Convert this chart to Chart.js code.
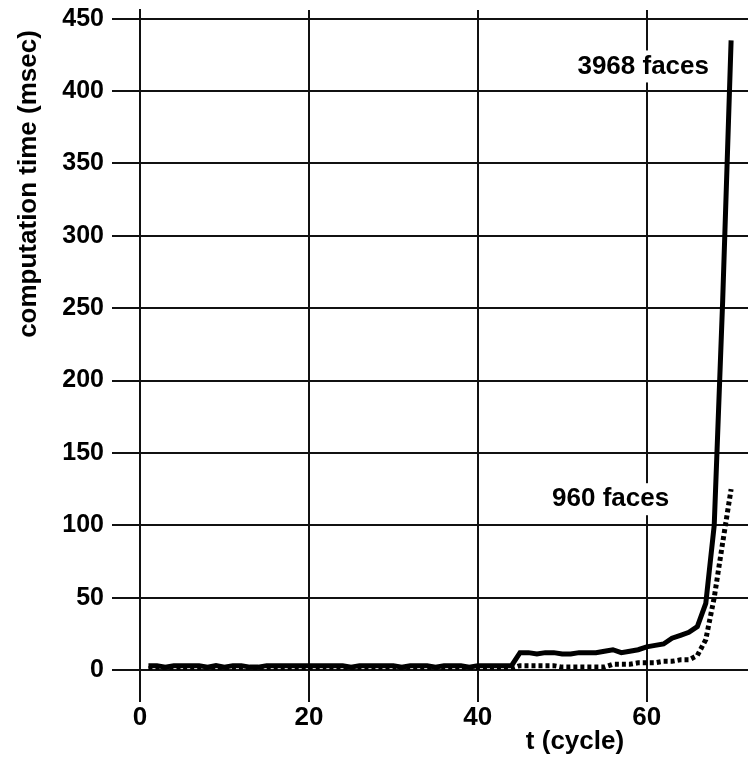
<!DOCTYPE html>
<html>
<head>
<meta charset="utf-8">
<script src="https://cdn.jsdelivr.net/npm/chart.js@4"></script>
<style>
  body { margin: 0; background: #fff; }
  #wrap { width: 748px; height: 760px; position: relative; }
</style>
</head>
<body>
<div id="wrap"><canvas id="myChart"></canvas></div>
<script>
// cycle number for every sample
const cycles = [
  1, 2, 3, 4, 5, 6, 7, 8, 9, 10,
  11, 12, 13, 14, 15, 16, 17, 18, 19, 20,
  21, 22, 23, 24, 25, 26, 27, 28, 29, 30,
  31, 32, 33, 34, 35, 36, 37, 38, 39, 40,
  41, 42, 43, 44, 45, 46, 47, 48, 49, 50,
  51, 52, 53, 54, 55, 56, 57, 58, 59, 60,
  61, 62, 63, 64, 65, 66, 67, 68, 69, 70
]

// msec per cycle, 3968 face model
const faces3968 = [
  3, 3, 2, 3, 3, 3, 3, 2, 3, 2,
  3, 3, 2, 2, 3, 3, 3, 3, 3, 3,
  3, 3, 3, 3, 2, 3, 3, 3, 3, 3,
  2, 3, 3, 3, 2, 3, 3, 3, 2, 3,
  3, 3, 3, 3, 12, 12, 11, 12, 12, 11,
  11, 12, 12, 12, 13, 14, 12, 13, 14, 16,
  17, 18, 22, 24, 26, 30, 46, 100, 255, 435
]

// msec per cycle, 960 face model
const faces960 = [
  1, 1, 1, 1, 2, 1, 1, 1, 2, 1,
  1, 1, 1, 2, 1, 1, 1, 1, 1, 1,
  1, 2, 1, 1, 1, 1, 1, 1, 1, 2,
  1, 1, 1, 1, 1, 1, 1, 2, 1, 1,
  1, 1, 1, 1, 3, 3, 3, 3, 3, 2,
  2, 2, 2, 2, 2, 4, 4, 4, 5, 5,
  5, 6, 6, 7, 7, 10, 21, 50, 88, 125
]

const xTicks = [0, 20, 40, 60]
const yTicks = [0, 50, 100, 150, 200, 250, 300, 350, 400, 450]

const seriesNames = ['3968 faces', '960 faces']
// where each name sits, in (cycle, msec)
const nameAt = [[51.8, 417], [48.8, 118]]

const FONT = '"Liberation Sans", Arial, Helvetica, sans-serif'

function points(vals) {
    return cycles.map((c, i) => ({ x: c, y: vals[i] }))
}

// series names with a white box behind, plus both axis titles
const textPlugin = {
    id: 'textPlugin',
    afterDraw(chart) {
        const ctx = chart.ctx
        const xs = chart.scales.x
        const ys = chart.scales.y
        ctx.save()
        ctx.font = 'bold 26px ' + FONT
        ctx.textBaseline = 'middle'
        ctx.textAlign = 'left'
        for (let i = 0; i < seriesNames.length; i++) {
            const px = xs.getPixelForValue(nameAt[i][0])
            const py = ys.getPixelForValue(nameAt[i][1])
            const w = ctx.measureText(seriesNames[i]).width
            ctx.fillStyle = '#fff'
            ctx.fillRect(px - 4, py - 16, w + 8, 32)
            ctx.fillStyle = '#000'
            ctx.fillText(seriesNames[i], px, py)
        }
        ctx.textAlign = 'center'
        ctx.fillText('t (cycle)', 575, 742)
        ctx.translate(29, 184)
        ctx.rotate(-Math.PI / 2)
        ctx.fillText('computation time (msec)', 0, 0)
        ctx.restore()
    }
}

const ctx = document.getElementById('myChart').getContext('2d')
const myChart = new Chart(ctx, {
    type: 'line',
    data: {
        datasets: [{
            label: seriesNames[0],
            data: points(faces3968),
            borderColor: '#000',
            borderWidth: 5,
            pointRadius: 0,
            tension: 0
        }, {
            label: seriesNames[1],
            data: points(faces960),
            borderColor: '#000',
            borderWidth: 5,
            borderDash: [4, 3],
            pointRadius: 0,
            tension: 0
        }]
    },
    options: {
        responsive: true,
        maintainAspectRatio: false,
        animation: false,
        layout: { padding: { top: 10, right: 0, bottom: 0, left: 0 } },
        plugins: {
            legend: { display: false },
            tooltip: { enabled: false }
        },
        scales: {
            x: {
                type: 'linear',
                min: 0,
                max: 72,
                afterBuildTicks: (axis) => { axis.ticks = xTicks.map(v => ({ value: v })) },
                afterFit: (axis) => { axis.height = 90; axis.paddingLeft = 0; axis.paddingRight = 0 },
                ticks: {
                    color: '#000',
                    padding: 0,
                    maxRotation: 0,
                    font: { family: FONT, size: 26, weight: 'bold' }
                },
                grid: { color: '#111', lineWidth: 2, tickLength: 32 },
                border: { color: '#111', width: 2 }
            },
            y: {
                min: 0,
                max: 456,
                afterBuildTicks: (axis) => { axis.ticks = yTicks.map(v => ({ value: v })) },
                afterFit: (axis) => { axis.width = 140; axis.paddingTop = 0; axis.paddingBottom = 0 },
                ticks: {
                    color: '#000',
                    padding: 8,
                    font: { family: FONT, size: 25, weight: 'bold' }
                },
                grid: { color: '#111', lineWidth: 2, tickLength: 28 },
                border: { color: '#111', width: 2 }
            }
        }
    },
    plugins: [textPlugin]
})
</script>
</body>
</html>
